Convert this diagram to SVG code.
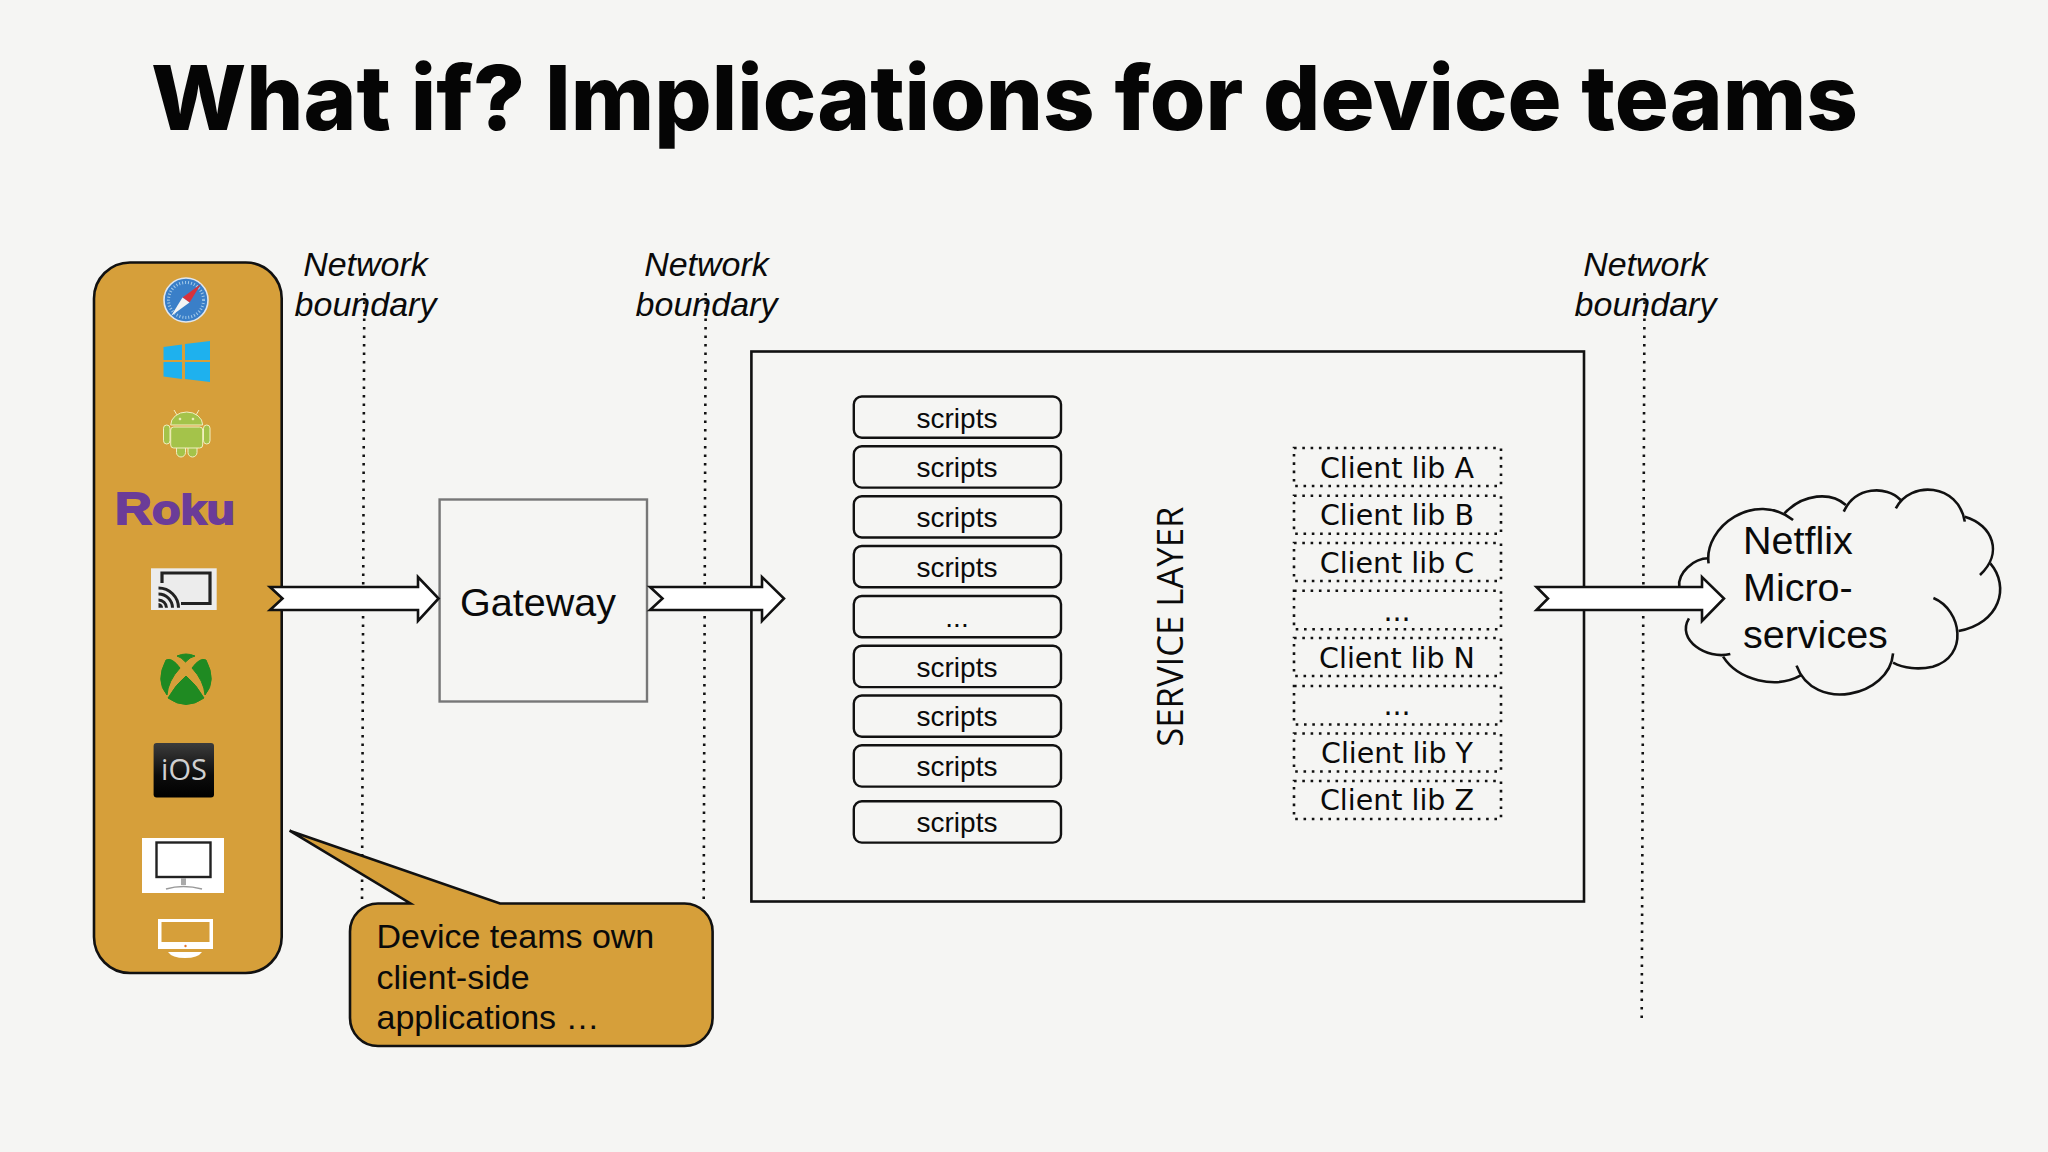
<svg xmlns="http://www.w3.org/2000/svg" width="2048" height="1152" viewBox="0 0 2048 1152">
<defs>
<linearGradient id="iosg" x1="0" y1="0" x2="0" y2="1"><stop offset="0" stop-color="#3c3c3c"/><stop offset="0.6" stop-color="#0c0c0c"/><stop offset="1" stop-color="#000"/></linearGradient>
</defs>
<style>
.s{font-family:"Liberation Sans",Arial,sans-serif;fill:#0a0a0a}
.d{font-family:"DejaVu Sans",sans-serif;font-size:28.5px;fill:#0a0a0a;text-anchor:middle}
.scr{font-size:28px;text-anchor:middle}
.net{font-size:34px;font-style:italic;text-anchor:middle}
.box{fill:none;stroke:#111;stroke-width:2.6}
.script{fill:none;stroke:#111;stroke-width:2.4}
.lib{fill:none;stroke:#111;stroke-width:2.6;stroke-dasharray:2.6 5.7}
.dot{fill:none;stroke:#111;stroke-width:2.6;stroke-dasharray:2.6 5.9}
.arrow{fill:#fff;stroke:#111;stroke-width:2.6;stroke-linejoin:miter}
.cl{fill:none;stroke:#111;stroke-width:2.6;vector-effect:non-scaling-stroke}
.pan{fill:#d69f3a;stroke:#111;stroke-width:2.6}
</style>
<rect width="2048" height="1152" fill="#f5f5f3"/>
<text id="title" x="151" y="129.5" font-family="Inter,'Liberation Sans',sans-serif" font-weight="800" font-size="90" textLength="1707" lengthAdjust="spacingAndGlyphs" fill="#050505">What if? Implications for device teams</text>

<g id="boundaries">
<line class="dot" x1="364.3" y1="293" x2="362" y2="903"/>
<line class="dot" x1="705.7" y1="293" x2="703.7" y2="903"/>
<line class="dot" x1="1644.5" y1="293" x2="1641.7" y2="1019"/>
<text class="s net" x="365.5" y="275.7">Network</text><text class="s net" x="365.5" y="316">boundary</text>
<text class="s net" x="706.5" y="275.7">Network</text><text class="s net" x="706.5" y="316">boundary</text>
<text class="s net" x="1645.5" y="275.7">Network</text><text class="s net" x="1645.5" y="316">boundary</text>
</g>

<g id="devices">
<rect class="pan" x="94" y="262.5" width="187.7" height="710.5" rx="36"/>
<g id="safari">
<circle cx="186" cy="300" r="22" fill="#3a7fc8" stroke="#dfe6ee" stroke-width="1.6"/>
<circle cx="186" cy="300" r="17.5" fill="none" stroke="#a4cbea" stroke-width="3" stroke-dasharray="1 2"/>
<polygon points="201,284 189.5,302.5 182.5,297.5" fill="#d8323c"/>
<polygon points="171,316 182.5,297.5 189.5,302.5" fill="#f4f4f4"/>
</g>
<g id="windows" fill="#1eb1ee">
<polygon points="163.5,347 182,344.5 182,360 163.5,360"/>
<polygon points="185,344 210,341 210,360 185,360"/>
<polygon points="163.5,362 182,362 182,379 163.5,376.5"/>
<polygon points="185,362 210,362 210,382 185,379"/>
</g>
<g id="android" fill="#a4c34a" stroke="#f2f0c0" stroke-width="1">
<path d="M177,415 L174,410 M196,415 L199,410" fill="none"/>
<path d="M170.7,425 A16 13 0 0 1 202.7,425 Z"/>
<rect x="176.5" y="440" width="9" height="17" rx="4.5"/>
<rect x="188" y="440" width="9" height="17" rx="4.5"/>
<rect x="170.7" y="427" width="32" height="21" rx="3"/>
<rect x="163.5" y="425" width="6.5" height="19" rx="3.2"/>
<rect x="203.5" y="425" width="6.5" height="19" rx="3.2"/>
<circle cx="180" cy="419" r="0.9" fill="#f2f0c0"/><circle cx="193" cy="419" r="0.9" fill="#f2f0c0"/>
</g>
<text id="roku" x="115" y="524" font-family="Liberation Sans,sans-serif" font-weight="700" font-size="45" textLength="120" lengthAdjust="spacingAndGlyphs" fill="#6b3c98" stroke="#6b3c98" stroke-width="1.8">R<tspan font-size="41">oku</tspan></text>
<g id="cast">
<rect x="151" y="568.3" width="65.7" height="41.7" fill="#ececec"/>
<path d="M162,583 V573 H210 V603.5 H181" fill="none" stroke="#222" stroke-width="3.2"/>
<path d="M158.5,588 A20 20 0 0 1 178.5,607.7 M158.5,594 A14 14 0 0 1 172.5,607.7 M158.5,600 A8 8 0 0 1 166.5,607.7" fill="none" stroke="#222" stroke-width="3"/>
<path d="M158.5,603 A4.7 4.7 0 0 1 163,607.7 H158.5 Z" fill="#222"/>
</g>
<g id="xbox" fill="#1f8a22" stroke="#1f8a22" stroke-width="1" transform="translate(0 1)">
<path d="M177,655 Q186,651 195,655 Q190,656 185.5,661 Q181,656 177,655 Z"/>
<path d="M166,659 Q172,656 180,667 Q168,680 167,694 Q155,680 166,659 Z"/>
<path d="M206,659 Q200,656 192,667 Q204,680 205,694 Q217,680 206,659 Z"/>
<path d="M186,675 Q176,683 168,697 Q186,710 204,697 Q196,683 186,675 Z"/>
</g>
<g id="ios">
<rect x="153.6" y="743" width="60.4" height="54.5" rx="3" fill="url(#iosg)"/>
<text x="184" y="780" font-family="Open Sans,sans-serif" font-size="29" text-anchor="middle" fill="#d0d0d0">iOS</text>
</g>
<g id="monitor">
<rect x="142" y="838" width="82" height="55" fill="#fff"/>
<rect x="156.5" y="842.5" width="54" height="34.5" fill="#fff" stroke="#222" stroke-width="2.4"/>
<rect x="181" y="878" width="5" height="7" fill="#aaa"/>
<path d="M166,889 Q183,884 202,889" fill="none" stroke="#999" stroke-width="1.6"/>
</g>
<g id="imac">
<rect x="158" y="919" width="55" height="30" fill="#fff"/>
<rect x="161.5" y="922" width="48" height="20" fill="#d69f3a"/>
<circle cx="185.5" cy="946" r="1.2" fill="#e8762c"/>
<path d="M168,952 H202 Q198,958 185,958 Q172,958 168,952 Z" fill="#fff"/>
</g>
</g>

<g id="callout">
<path class="pan" d="M378,903.5 H410.4 L289.6,830.7 L500,903.5 H684.6 A28 28 0 0 1 712.6,931.5 V1018 A28 28 0 0 1 684.6,1046 H378 A28 28 0 0 1 350,1018 V931.5 A28 28 0 0 1 378,903.5 Z"/>
<text class="s" x="376.5" y="948" font-size="34">Device teams own</text>
<text class="s" x="376.5" y="988.5" font-size="34">client-side</text>
<text class="s" x="376.5" y="1029" font-size="34">applications …</text>
</g>

<g id="gateway">
<rect x="439.6" y="499.5" width="207.4" height="202" fill="none" stroke="#777" stroke-width="2.4"/>
<text class="s" x="460" y="616" font-size="39.5">Gateway</text>
</g>

<g id="service-layer">
<rect class="box" x="751.4" y="351.5" width="832.6" height="550"/>
<text x="0" y="0" transform="translate(1182.7 746.7) rotate(-90)" font-family="Open Sans,sans-serif" font-size="36" textLength="240" lengthAdjust="spacingAndGlyphs" fill="#0a0a0a">SERVICE LAYER</text>
</g>

<g id="scripts">
<g id="script-1"><rect class="script" x="853.8" y="396.5" width="207.2" height="41.3" rx="8"/><text class="s scr" x="957" y="427.5">scripts</text></g>
<g id="script-2"><rect class="script" x="853.8" y="446.3" width="207.2" height="41.3" rx="8"/><text class="s scr" x="957" y="477.3">scripts</text></g>
<g id="script-3"><rect class="script" x="853.8" y="496.2" width="207.2" height="41.3" rx="8"/><text class="s scr" x="957" y="527.2">scripts</text></g>
<g id="script-4"><rect class="script" x="853.8" y="546" width="207.2" height="41.3" rx="8"/><text class="s scr" x="957" y="577">scripts</text></g>
<g id="script-5"><rect class="script" x="853.8" y="596" width="207.2" height="41.3" rx="8"/><text class="s scr" x="957" y="627">...</text></g>
<g id="script-6"><rect class="script" x="853.8" y="645.8" width="207.2" height="41.3" rx="8"/><text class="s scr" x="957" y="676.8">scripts</text></g>
<g id="script-7"><rect class="script" x="853.8" y="695.5" width="207.2" height="41.3" rx="8"/><text class="s scr" x="957" y="726">scripts</text></g>
<g id="script-8"><rect class="script" x="853.8" y="745.3" width="207.2" height="41.3" rx="8"/><text class="s scr" x="957" y="775.8">scripts</text></g>
<g id="script-9"><rect class="script" x="853.8" y="801.3" width="207.2" height="41.3" rx="8"/><text class="s scr" x="957" y="831.8">scripts</text></g>
</g>

<g id="client-libs">
<g id="lib-a"><rect class="lib" x="1294" y="448" width="207" height="38"/><text class="d" x="1397" y="477.7">Client lib A</text></g>
<g id="lib-b"><rect class="lib" x="1294" y="495.7" width="207" height="38"/><text class="d" x="1397" y="525">Client lib B</text></g>
<g id="lib-c"><rect class="lib" x="1294" y="543" width="207" height="38"/><text class="d" x="1397" y="572.7">Client lib C</text></g>
<g id="lib-d1"><rect class="lib" x="1294" y="590.7" width="207" height="38.5"/><text class="d" x="1397" y="620.7">...</text></g>
<g id="lib-n"><rect class="lib" x="1294" y="638" width="207" height="38"/><text class="d" x="1397" y="667.7">Client lib N</text></g>
<g id="lib-d2"><rect class="lib" x="1294" y="686" width="207" height="38.5"/><text class="d" x="1397" y="715">...</text></g>
<g id="lib-y"><rect class="lib" x="1294" y="733.5" width="207" height="38"/><text class="d" x="1397" y="762.7">Client lib Y</text></g>
<g id="lib-z"><rect class="lib" x="1294" y="781" width="207" height="38"/><text class="d" x="1397" y="810.3">Client lib Z</text></g>
</g>

<g id="cloud">
<g transform="translate(1500 470) scale(.3448 .3333)">
<path class="cl" d="M605,280 C590,170 740,60 850,150"/>
<path class="cl" d="M825,130 C880,70 960,65 1003,105"/>
<path class="cl" d="M997,125 C1030,50 1120,45 1162,90"/>
<path class="cl" d="M1148,115 C1190,30 1330,40 1348,155"/>
<path class="cl" d="M1348,140 C1430,165 1460,250 1392,315"/>
<path class="cl" d="M1422,280 C1480,350 1450,460 1330,483"/>
<path class="cl" d="M1257,384 C1340,420 1360,560 1255,590 C1215,600 1170,595 1140,578"/>
<path class="cl" d="M1140,550 C1130,680 910,730 860,587"/>
<path class="cl" d="M875,615 C800,660 690,630 647,560"/>
<path class="cl" d="M668,552 C600,570 510,510 548,445"/>
<path class="cl" d="M520,350 C515,310 560,265 605,265"/>
</g>
<text class="s" x="1743" y="554" font-size="39.5">Netflix</text>
<text class="s" x="1743" y="601" font-size="39.5">Micro-</text>
<text class="s" x="1743" y="648" font-size="39.5">services</text>
</g>

<g id="connectors">
<polygon class="arrow" points="270,587 418,587 418,577 438.6,598.5 418,621 418,610 270,610 282.5,598.5"/>
<polygon class="arrow" points="650,587 762,587 762,577 784,598.5 762,621 762,610 650,610 662.5,598.5"/>
<polygon class="arrow" points="1536.5,587 1702,587 1702,577 1724,598.5 1702,621 1702,610 1536.5,610 1548,598.5"/>
</g>
</svg>
